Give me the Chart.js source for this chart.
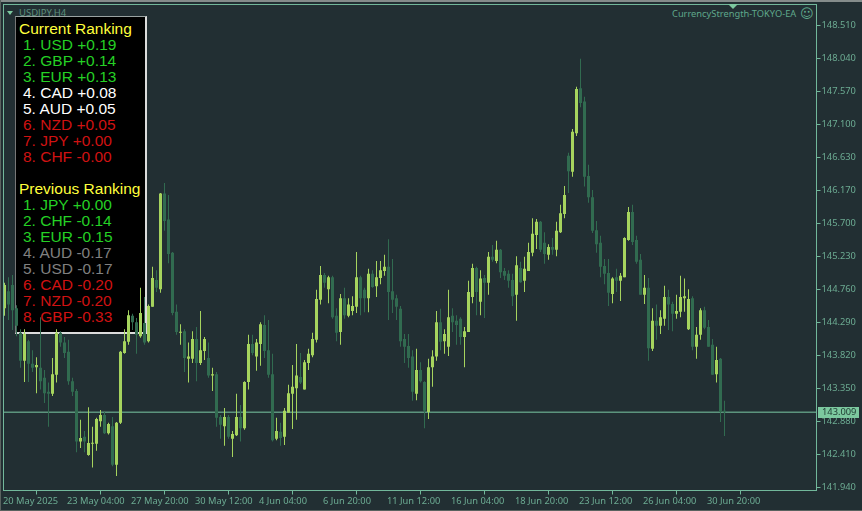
<!DOCTYPE html>
<html>
<head>
<meta charset="utf-8">
<title>USDJPY,H4</title>
<script src="https://cdn.jsdelivr.net/npm/chart.js@4/dist/chart.umd.min.js"></script>
<style>
  html, body { margin: 0; padding: 0; background: #222f33; }
  #stage { position: relative; width: 862px; height: 511px; overflow: hidden; background: #222f33; }
  #edge-top { position: absolute; left: 0; top: 0; width: 862px; height: 2px; background: #858c8b; }
  #edge-left { position: absolute; left: 0; top: 0; width: 1px; height: 511px; background: #59625f; }
  #edge-bottom { position: absolute; left: 0; top: 510px; width: 862px; height: 1px; background: #59625f; }
  #symbol { position: absolute; left: 19px; top: 7px; font: 9.5px/12px "Noto Sans", sans-serif; color: #5d8f7d; }
  #menu-arrow { position: absolute; left: 7px; top: 11px; border-left: 3.5px solid transparent; border-right: 3.5px solid transparent; border-top: 4px solid #7cc89f; }
  #shift-arrow { position: absolute; left: 728px; top: 4px; border-left: 5px solid transparent; border-right: 5px solid transparent; border-top: 5px solid #7cc89f; z-index: 3; }
  #ea-name { position: absolute; left: 672px; top: 8px; font: 9.3px/12px "Noto Sans", sans-serif; color: #5fa88b; white-space: nowrap; }
  #smiley { position: absolute; left: 800px; top: 6px; font: 13px/16px "DejaVu Sans", sans-serif; color: #5fa88b; }
  #panel {
    position: absolute; left: 15px; top: 16px; width: 126px; height: 311px;
    padding: 4px 0 0 3px; background: #000;
    border-style: solid; border-width: 1px 2px 2px 1px;
    border-color: #9aa3a2 #dcdcdc #dcdcdc #777;
    font: 15.5px/16px "Liberation Sans", Arial, sans-serif;
  }
  #panel div { white-space: nowrap; height: 16px; }
  #panel .title { color: #ffff3c; }
  #panel .row { margin-left: 4px; }
  #panel .strong { color: #25d025; }
  #panel .neutral { color: #ffffff; }
  #panel .dim { color: #808080; }
  #panel .weak { color: #d01212; }
  canvas { position: absolute; left: 0; top: 0; z-index: 2; }
</style>
</head>
<body>
<div id="stage">
  <div id="edge-top"></div>
  <div id="edge-left"></div>
  <div id="edge-bottom"></div>
  <div id="menu-arrow"></div>
  <div id="symbol">USDJPY,H4</div>
  <div id="shift-arrow"></div>
  <div id="ea-name">CurrencyStrength-TOKYO-EA</div>
  <div id="smiley">&#9786;</div>
  <div id="panel"></div>
  <canvas id="chart" width="862" height="511"></canvas>
</div>
<script>
const opens = [
  144.49,144.73,144.82,144.49,144.14,143.74,144.02,143.70,143.65,143.64,
  143.50,143.30,143.27,143.54,144.14,144.00,143.87,143.45,143.31,142.59,
  142.66,142.40,142.56,142.56,142.88,142.97,142.71,142.81,142.26,142.86,
  143.85,144.01,144.38,144.29,144.09,144.28,144.02,144.51,144.89,144.76,
  146.12,145.75,145.28,144.44,144.14,144.16,143.77,143.77,144.05,143.71,
  143.88,143.78,143.53,143.55,142.94,142.81,142.94,142.63,142.68,142.94,
  142.78,143.44,143.98,143.80,143.98,144.25,143.89,143.55,142.63,142.73,
  142.66,143.00,143.27,143.35,143.51,143.33,143.71,143.82,144.04,144.61,
  144.96,144.76,144.93,144.38,144.15,144.63,144.38,144.45,144.51,144.93,
  144.75,144.63,144.98,144.80,144.92,145.02,145.08,144.73,144.63,144.48,
  144.05,143.95,143.80,143.27,143.61,143.44,143.01,143.65,143.80,144.29,
  144.02,143.94,144.38,144.31,144.34,144.08,144.15,144.65,145.06,144.58,
  144.92,144.85,145.22,145.16,145.32,145.02,144.98,144.89,144.68,145.06,
  144.88,145.02,145.28,145.53,145.72,145.42,145.25,145.36,145.32,145.57,
  145.83,146.66,146.43,146.98,147.62,147.43,146.37,146.07,145.60,145.42,
  145.09,144.99,144.69,144.93,144.88,144.93,145.46,145.86,145.46,145.18,
  144.68,144.78,143.91,144.31,144.24,144.34,144.65,144.55,144.41,144.44,
  144.63,144.19,144.63,143.94,144.11,144.46,144.22,143.97,143.55,143.77,
  143.03
];
const highs = [
  144.85,144.93,144.96,144.53,144.19,144.19,144.04,143.89,143.79,144.36,
  143.61,143.43,143.78,144.19,144.16,144.08,144.04,143.50,143.34,142.90,
  142.74,143.08,142.80,142.93,143.04,143.01,142.86,142.94,142.87,143.88,
  144.19,144.46,144.41,144.35,144.78,144.65,144.54,145.08,145.03,146.13,
  146.27,146.10,145.29,144.54,144.26,144.19,144.00,144.16,144.22,144.45,
  144.08,144.00,143.64,143.58,142.97,143.07,142.97,142.74,143.27,143.11,
  143.45,144.11,144.11,144.05,144.29,144.39,144.32,143.84,142.93,142.86,
  143.07,143.40,143.68,143.98,143.85,143.75,143.91,144.14,144.75,145.09,
  144.99,144.95,144.95,144.49,144.69,144.78,144.63,144.66,145.29,144.95,
  144.78,145.05,145.03,145.16,145.16,145.25,145.47,145.19,144.68,144.52,
  144.12,144.12,143.89,143.91,143.72,143.45,143.77,143.89,144.45,144.48,
  144.19,144.75,144.49,144.39,144.36,144.22,144.88,145.12,145.08,145.03,
  144.96,145.29,145.39,145.45,145.33,145.06,145.03,144.98,145.23,145.15,
  145.22,145.42,145.77,145.76,145.73,145.57,145.40,145.49,145.72,145.96,
  146.23,146.70,147.04,147.64,148.04,147.50,146.53,146.17,145.73,145.52,
  145.19,145.19,144.93,145.05,144.99,145.50,145.93,145.96,145.52,145.26,
  144.96,144.92,144.49,144.54,144.46,144.81,144.75,144.58,144.68,144.95,
  144.91,144.76,144.66,144.22,144.49,144.51,144.32,144.05,143.94,143.78,
  143.17
];
const lows = [
  144.38,144.32,144.18,144.09,143.64,143.44,143.44,143.58,143.28,143.33,
  143.14,142.80,143.24,143.43,143.94,143.78,143.40,143.24,142.44,142.50,
  142.44,142.39,142.22,142.46,142.80,142.70,142.69,142.24,142.10,142.84,
  143.84,143.97,144.18,143.84,144.07,143.97,144.00,144.51,144.72,144.71,
  145.59,145.13,144.39,144.11,143.97,143.58,143.43,143.71,143.45,143.68,
  143.75,143.50,143.31,142.80,142.63,142.53,142.63,142.37,142.67,142.59,
  142.76,143.33,143.82,143.60,143.67,143.78,143.50,142.59,142.61,142.53,
  142.54,143.00,142.77,142.90,143.41,143.33,143.61,143.79,144.00,144.54,
  144.78,144.56,144.34,144.02,143.97,144.34,144.36,144.39,144.42,144.39,
  144.43,144.43,144.78,144.65,144.83,144.95,144.32,144.42,144.32,143.94,
  143.71,143.64,143.17,143.18,143.43,142.78,142.91,143.37,143.74,143.89,
  143.84,143.81,144.15,143.97,143.97,143.65,144.15,144.56,144.39,144.39,
  144.35,144.68,145.15,145.13,144.92,144.89,144.78,144.52,144.31,144.85,
  144.72,145.02,145.23,145.33,145.29,145.12,145.18,145.25,145.23,145.56,
  145.77,146.13,146.36,146.94,147.35,146.22,145.99,145.56,145.28,144.93,
  144.83,144.52,144.56,144.72,144.59,144.93,145.45,145.39,145.12,144.68,
  144.55,143.74,143.88,144.04,144.12,144.24,144.18,144.16,144.34,144.36,
  144.44,144.18,143.89,143.77,144.04,144.19,143.94,143.54,143.43,142.87,
  142.67
];
const closes = [
  144.82,144.54,144.46,144.24,143.74,144.12,143.70,143.64,143.68,143.45,
  143.28,143.27,143.55,144.14,144.00,143.85,143.45,143.30,142.59,142.64,
  142.59,142.57,142.57,142.91,142.97,142.71,142.84,142.26,142.86,143.87,
  144.02,144.39,144.29,144.11,144.42,144.00,144.52,144.92,144.78,146.12,
  145.73,145.26,144.42,144.15,144.15,143.78,143.80,144.05,143.71,143.89,
  144.05,143.53,143.55,142.93,142.83,142.94,142.66,142.70,142.94,142.78,
  143.44,143.98,143.85,144.00,144.26,143.88,143.54,142.61,142.74,142.64,
  143.03,143.28,143.37,143.53,143.43,143.72,143.84,144.05,144.62,144.96,
  144.85,144.93,144.36,144.14,144.63,144.39,144.54,144.52,144.93,144.63,
  144.63,144.98,144.79,144.93,145.03,145.08,144.72,144.61,144.51,144.02,
  143.94,143.78,143.30,143.61,143.45,143.03,143.65,143.80,144.29,144.01,
  144.12,144.36,144.29,144.25,144.08,144.16,144.72,145.06,144.72,144.91,
  144.85,145.22,145.18,145.32,145.00,144.95,144.88,144.66,145.10,144.86,
  145.05,145.29,145.55,145.72,145.32,145.26,145.36,145.32,145.59,145.84,
  146.10,146.44,147.00,147.61,147.41,146.36,146.07,145.59,145.40,145.08,
  144.98,144.71,144.91,144.88,144.95,145.49,145.86,145.43,145.15,144.68,
  144.78,143.92,144.31,144.24,144.36,144.65,144.54,144.41,144.45,144.65,
  144.66,144.62,143.94,144.11,144.46,144.21,143.94,143.54,143.75,143.01,
  143.009
];

const priceTicks = [141.94,142.41,142.88,143.35,143.82,144.29,144.76,145.23,145.70,146.17,146.63,147.10,147.57,148.04,148.51];
const timeTickBars = [0,16,32,48,64,80,96,112,128,144,160,176];
const timeTickLabels = ['20 May 2025','23 May 04:00','27 May 20:00','30 May 12:00','4 Jun 04:00','6 Jun 20:00','11 Jun 12:00','16 Jun 04:00','18 Jun 20:00','23 Jun 12:00','26 Jun 04:00','30 Jun 20:00'];

const currentRanking = ['1. USD +0.19','2. GBP +0.14','3. EUR +0.13','4. CAD +0.08','5. AUD +0.05','6. NZD +0.05','7. JPY +0.00','8. CHF -0.00'];
const currentClasses = ['strong','strong','strong','neutral','neutral','weak','weak','weak'];
const previousRanking = ['1. JPY +0.00','2. CHF -0.14','3. EUR -0.15','4. AUD -0.17','5. USD -0.17','6. CAD -0.20','7. NZD -0.20','8. GBP -0.33'];
const previousClasses = ['strong','strong','strong','dim','dim','weak','weak','weak'];

const UP_COLOR = '#a6d45e';
const DOWN_COLOR = '#316b50';
const AXIS_COLOR = '#72b89b';
const TEXT_COLOR = '#6cab92';

// ranking panel, sits under the canvas because the candles paint over it
const panel = document.getElementById('panel');
function addRows(title, rows, classes) {
  const head = document.createElement('div');
  head.className = 'title';
  head.textContent = title;
  panel.appendChild(head);
  rows.forEach((text, i) => {
    const row = document.createElement('div');
    row.className = 'row ' + classes[i];
    row.textContent = text;
    panel.appendChild(row);
  });
}
addRows('Current Ranking', currentRanking, currentClasses);
panel.appendChild(document.createElement('div'));
addRows('Previous Ranking', previousRanking, previousClasses);

const upBodies = [], downBodies = [], upWicks = [], downWicks = [];
opens.forEach((open, i) => {
  const isUp = closes[i] >= open;
  (isUp ? upBodies : downBodies).push({ x: i, y: [open, closes[i]] });
  (isUp ? upWicks : downWicks).push({ x: i, y: [lows[i], highs[i]] });
});

const lastPrice = closes[closes.length - 1];
const X_MIN = -0.25;
const X_MAX = 203;

const framePlugin = {
  id: 'frame',
  afterDraw(chart) {
    const { ctx, chartArea: a, scales } = chart;
    ctx.save();
    ctx.strokeStyle = AXIS_COLOR;
    ctx.lineWidth = 1;
    ctx.strokeRect(a.left, a.top, a.right - a.left, a.bottom - a.top);
    // current price tag on the right axis
    const y = Math.round(scales.y.getPixelForValue(lastPrice));
    ctx.fillStyle = '#7cc89f';
    ctx.fillRect(818, y - 5, 41, 11);
    ctx.fillStyle = '#1d3a31';
    ctx.font = '9.3px "Noto Sans", sans-serif';
    ctx.textBaseline = 'middle';
    ctx.fillText(lastPrice.toFixed(3), 822, y + 0.5);
    ctx.restore();
  }
};

new Chart(document.getElementById('chart'), {
  type: 'bar',
  data: {
    datasets: [
      { data: upBodies, backgroundColor: UP_COLOR, barThickness: 3, minBarLength: 1, inflateAmount: 0, order: 1 },
      { data: upWicks, backgroundColor: UP_COLOR, barThickness: 1, inflateAmount: 0, order: 2 },
      { data: downBodies, backgroundColor: DOWN_COLOR, barThickness: 3, minBarLength: 1, inflateAmount: 0, order: 3 },
      { data: downWicks, backgroundColor: DOWN_COLOR, barThickness: 1, inflateAmount: 0, order: 4 },
      {
        type: 'line',
        data: [{ x: X_MIN, y: lastPrice }, { x: X_MAX, y: lastPrice }],
        borderColor: '#7cc8a4',
        borderWidth: 1,
        pointRadius: 0,
        order: 5
      }
    ]
  },
  options: {
    responsive: false,
    animation: false,
    grouped: false,
    layout: { padding: { left: 3.5, top: 4.5, right: 0, bottom: 0 } },
    plugins: { legend: { display: false }, tooltip: { enabled: false } },
    scales: {
      x: {
        type: 'linear',
        min: X_MIN,
        max: X_MAX,
        offset: false,
        border: { display: false },
        grid: { drawOnChartArea: false, color: AXIS_COLOR, tickLength: 4, tickWidth: 1 },
        afterBuildTicks: (scale) => { scale.ticks = timeTickBars.map(v => ({ value: v })); },
        afterFit: (scale) => { scale.height = 20.5; scale.paddingLeft = 0; scale.paddingRight = 0; },
        ticks: {
          autoSkip: false,
          maxRotation: 0,
          align: 'start',
          labelOffset: -1.5,
          padding: 1,
          color: TEXT_COLOR,
          font: { family: 'Noto Sans', size: 9.3 },
          callback: (v) => timeTickLabels[timeTickBars.indexOf(v)]
        }
      },
      y: {
        position: 'right',
        min: 141.894,
        max: 148.812,
        border: { display: false },
        grid: { drawOnChartArea: false, color: AXIS_COLOR, tickLength: 4, tickWidth: 1 },
        afterBuildTicks: (scale) => { scale.ticks = priceTicks.map(v => ({ value: v })); },
        afterFit: (scale) => { scale.width = 45.5; scale.paddingTop = 0; scale.paddingBottom = 0; },
        ticks: {
          padding: 1,
          color: TEXT_COLOR,
          font: { family: 'Noto Sans', size: 9.3 },
          callback: (v) => v.toFixed(3)
        }
      }
    }
  },
  plugins: [framePlugin]
});
</script>
</body>
</html>
